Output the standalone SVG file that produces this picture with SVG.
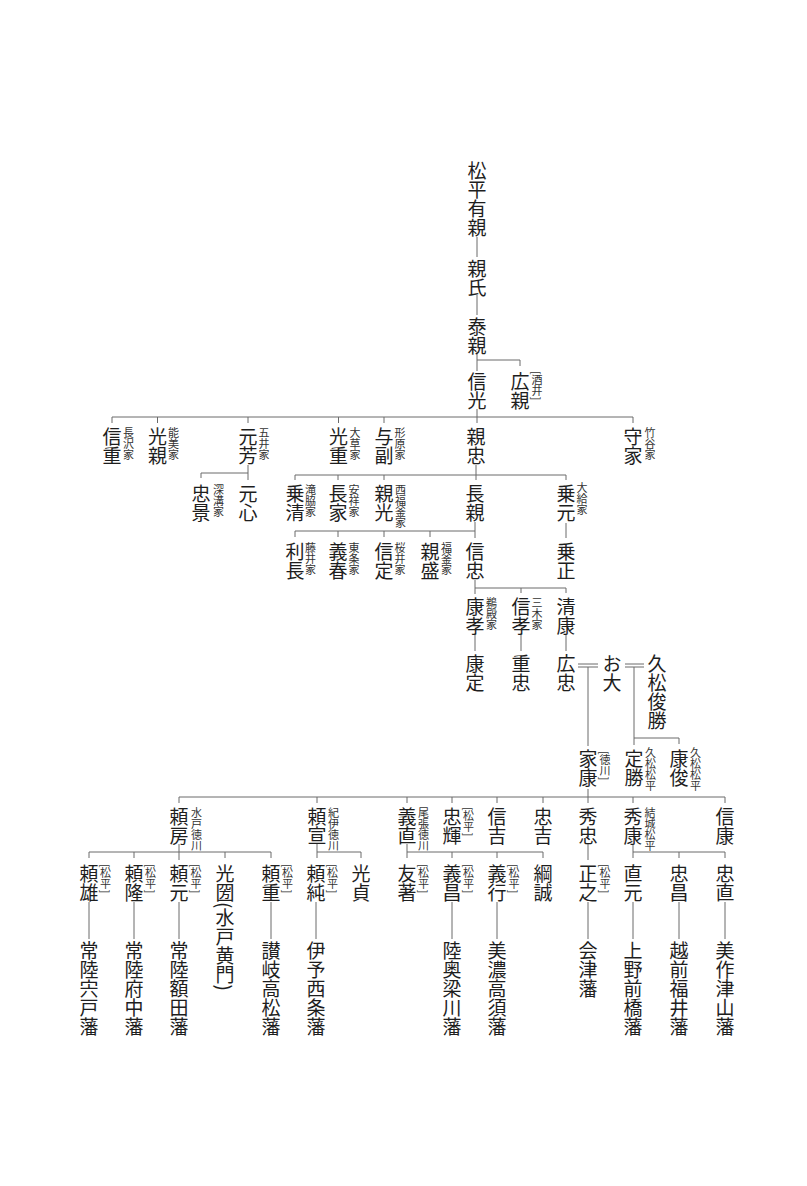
<svg xmlns="http://www.w3.org/2000/svg" width="807" height="1186" viewBox="0 0 807 1186">
<style>
.n{font-family:"Noto Sans CJK JP","Noto Sans CJK SC",sans-serif;font-size:19px;fill:#1e1e1e;writing-mode:vertical-rl;}
.a{font-family:"Noto Sans CJK JP","Noto Sans CJK SC",sans-serif;font-size:11px;fill:#333;writing-mode:vertical-rl;}
#connectors path{stroke:#6a6a6a;stroke-width:1;fill:none;}
</style>
<rect width="807" height="1186" fill="#fff"/>
<g id="connectors">
<path d="M477,237V257M477,295V315M477,352V371M477,360H520V366"/>
<path d="M477,409V423M112,417H633M112,417V423M157.5,417V423M248,417V423M338.5,417V423M384,417V423M633,417V423"/>
<path d="M248,465V480M201,473H248M201,473V478"/>
<path d="M476,465V480M295,475H566M295,475V480M338,475V480M384,475V480M566,475V480"/>
<path d="M475,522V538M295,531H475M295,531V537M338,531V537M384,531V537M430,531V537"/>
<path d="M566,523V538"/>
<path d="M475,580V594M475,588H566M521,588V593M566,588V593"/>
<path d="M475,634V651M521,634V651M566,634V651"/>
<path d="M578,664H598M578,667H598M588,667V746"/>
<path d="M625,664H644M625,667H644M634,667V745M634,738H679V744"/>
<path d="M588,789V803M179,797H725M179,797V803M317,797V803M407,797V803M452,797V803M497,797V803M543,797V803M633,797V803M725,797V803"/>
<path d="M179,844V860M89,852H271M89,852V858M134,852V858M225,852V858M271,852V858"/>
<path d="M317,844V858M317,852H361V858"/>
<path d="M407,844V858M407,852H543M452,852V858M497,852V858M543,852V858"/>
<path d="M588,844V860"/>
<path d="M633,844V858M633,852H725M679,852V858M725,852V858"/>
<path d="M89,902V939M134,902V939M179,902V939M271,902V939M316,902V939M452,902V939M497,902V939M588,902V939M633,902V939M679,902V939M725,902V939"/>
</g>
<g id="n01"><text class="n" x="477" y="161">松平有親</text></g>
<g id="n02"><text class="n" x="477" y="259">親氏</text></g>
<g id="n03"><text class="n" x="477" y="317">泰親</text></g>
<g id="n04"><text class="n" x="477" y="372">信光</text></g>
<g id="n05"><text class="n" x="520" y="372">広親</text><text class="a" x="537" y="371">[酒井]</text></g>
<g id="n06"><text class="n" x="112" y="427">信重</text><text class="a" x="128.5" y="427">長沢家</text></g>
<g id="n07"><text class="n" x="157.5" y="427">光親</text><text class="a" x="173.5" y="427">能美家</text></g>
<g id="n08"><text class="n" x="248" y="427">元芳</text><text class="a" x="264" y="427">五井家</text></g>
<g id="n09"><text class="n" x="338.5" y="427">光重</text><text class="a" x="355" y="427">大草家</text></g>
<g id="n10"><text class="n" x="384" y="427">与副</text><text class="a" x="400" y="427">形原家</text></g>
<g id="n11"><text class="n" x="476" y="427">親忠</text></g>
<g id="n12"><text class="n" x="633" y="427">守家</text><text class="a" x="650" y="427">竹谷家</text></g>
<g id="n13"><text class="n" x="201" y="484">忠景</text><text class="a" x="218.5" y="484">深溝家</text></g>
<g id="n14"><text class="n" x="248" y="484">元心</text></g>
<g id="n15"><text class="n" x="295" y="484">乗清</text><text class="a" x="310.5" y="484">滝脇家</text></g>
<g id="n16"><text class="n" x="338" y="484">長家</text><text class="a" x="354" y="484">安祥家</text></g>
<g id="n17"><text class="n" x="384" y="484">親光</text><text class="a" x="400.5" y="484">西福釜家</text></g>
<g id="n18"><text class="n" x="475" y="484">長親</text></g>
<g id="n19"><text class="n" x="566" y="484">乗元</text><text class="a" x="582" y="482">大給家</text></g>
<g id="n20"><text class="n" x="295" y="542">利長</text><text class="a" x="310.5" y="542">藤井家</text></g>
<g id="n21"><text class="n" x="338" y="542">義春</text><text class="a" x="354" y="542">東条家</text></g>
<g id="n22"><text class="n" x="384" y="542">信定</text><text class="a" x="400" y="542">桜井家</text></g>
<g id="n23"><text class="n" x="430" y="542">親盛</text><text class="a" x="446.5" y="542">福釜家</text></g>
<g id="n24"><text class="n" x="475" y="542">信忠</text></g>
<g id="n25"><text class="n" x="566" y="542">乗正</text></g>
<g id="n26"><text class="n" x="475" y="597">康孝</text><text class="a" x="491.5" y="597">鵜殿家</text></g>
<g id="n27"><text class="n" x="521" y="597">信孝</text><text class="a" x="537" y="597">三木家</text></g>
<g id="n28"><text class="n" x="566" y="597">清康</text></g>
<g id="n29"><text class="n" x="475" y="654">康定</text></g>
<g id="n30"><text class="n" x="521" y="654">重忠</text></g>
<g id="n31"><text class="n" x="566" y="654">広忠</text></g>
<g id="n32"><text class="n" x="612" y="654">お大</text></g>
<g id="n33"><text class="n" x="657" y="654">久松俊勝</text></g>
<g id="n34"><text class="n" x="588" y="749">家康</text><text class="a" x="605" y="751">[徳川]</text></g>
<g id="n35"><text class="n" x="634" y="749">定勝</text><text class="a" x="650.5" y="747">久松松平</text></g>
<g id="n36"><text class="n" x="679" y="749">康俊</text><text class="a" x="695.5" y="747">久松松平</text></g>
<g id="n37"><text class="n" x="179" y="807">頼房</text><text class="a" x="196.5" y="807">水戸徳川</text></g>
<g id="n38"><text class="n" x="317" y="807">頼宣</text><text class="a" x="333.5" y="807">紀伊徳川</text></g>
<g id="n39"><text class="n" x="407" y="807">義直</text><text class="a" x="423.5" y="807">尾張徳川</text></g>
<g id="n40"><text class="n" x="452" y="807">忠輝</text><text class="a" x="468.5" y="807">[松平]</text></g>
<g id="n41"><text class="n" x="497" y="807">信吉</text></g>
<g id="n42"><text class="n" x="543" y="807">忠吉</text></g>
<g id="n43"><text class="n" x="588" y="807">秀忠</text></g>
<g id="n44"><text class="n" x="633" y="807">秀康</text><text class="a" x="650" y="807">結城松平</text></g>
<g id="n45"><text class="n" x="725" y="807">信康</text></g>
<g id="n46"><text class="n" x="89" y="864">頼雄</text><text class="a" x="105.5" y="864">[松平]</text></g>
<g id="n47"><text class="n" x="134" y="864">頼隆</text><text class="a" x="150.5" y="864">[松平]</text></g>
<g id="n48"><text class="n" x="179" y="864">頼元</text><text class="a" x="196" y="864">[松平]</text></g>
<g id="n49"><text class="n" x="225" y="864">光圀(水戸黄門)</text></g>
<g id="n50"><text class="n" x="271" y="864">頼重</text><text class="a" x="287.5" y="864">[松平]</text></g>
<g id="n51"><text class="n" x="316" y="864">頼純</text><text class="a" x="332.5" y="864">[松平]</text></g>
<g id="n52"><text class="n" x="361" y="864">光貞</text></g>
<g id="n53"><text class="n" x="407" y="864">友著</text><text class="a" x="423.5" y="864">[松平]</text></g>
<g id="n54"><text class="n" x="452" y="864">義昌</text><text class="a" x="468.5" y="864">[松平]</text></g>
<g id="n55"><text class="n" x="497" y="864">義行</text><text class="a" x="514" y="864">[松平]</text></g>
<g id="n56"><text class="n" x="543" y="864">綱誠</text></g>
<g id="n57"><text class="n" x="588" y="864">正之</text><text class="a" x="605" y="864">[松平]</text></g>
<g id="n58"><text class="n" x="633" y="864">直元</text></g>
<g id="n59"><text class="n" x="679" y="864">忠昌</text></g>
<g id="n60"><text class="n" x="725" y="864">忠直</text></g>
<g id="n61"><text class="n" x="89" y="941">常陸宍戸藩</text></g>
<g id="n62"><text class="n" x="134" y="941">常陸府中藩</text></g>
<g id="n63"><text class="n" x="179" y="941">常陸額田藩</text></g>
<g id="n64"><text class="n" x="271" y="941">讃岐高松藩</text></g>
<g id="n65"><text class="n" x="316" y="941">伊予西条藩</text></g>
<g id="n66"><text class="n" x="452" y="941">陸奥梁川藩</text></g>
<g id="n67"><text class="n" x="497" y="941">美濃高須藩</text></g>
<g id="n68"><text class="n" x="588" y="941">会津藩</text></g>
<g id="n69"><text class="n" x="633" y="941">上野前橋藩</text></g>
<g id="n70"><text class="n" x="679" y="941">越前福井藩</text></g>
<g id="n71"><text class="n" x="725" y="941">美作津山藩</text></g>
</svg>
